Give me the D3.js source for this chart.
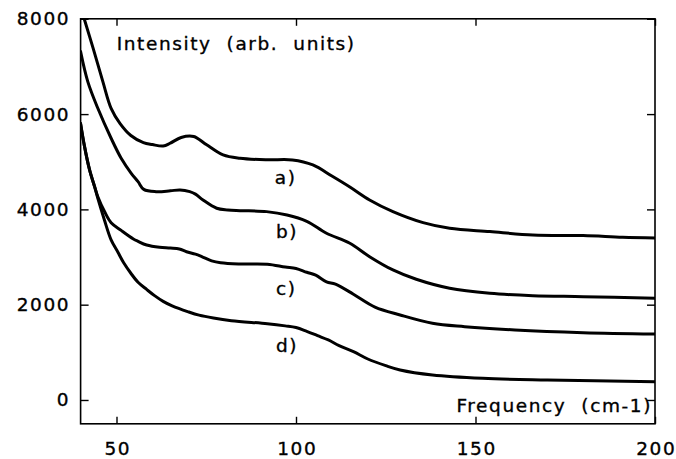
<!DOCTYPE html>
<html>
<head>
<meta charset="utf-8">
<script src="https://cdn.jsdelivr.net/npm/d3@7"></script>
<style>
  html, body { margin: 0; padding: 0; background: #fff; }
  svg { display: block; }
  text { font-family: "DejaVu Sans", sans-serif; fill: #000; }
</style>
</head>
<body>
<svg id="chart" width="676" height="459"></svg>
<script>
// ---- data ----
const freqA = [41, 43.5, 46.2, 48.5, 51, 54, 57.5, 60, 63, 65, 68, 71.5, 75, 79.7, 84.4, 92, 99, 104.7, 110, 115, 120.5, 127, 135.4, 142.8, 154, 166, 180, 191, 200];
const seriesA = [8000, 7380, 6680, 6120, 5800, 5550, 5400, 5360, 5330, 5390, 5510, 5530, 5360, 5143, 5073, 5040, 5037, 4933, 4700, 4470, 4198, 3953, 3722, 3604, 3534, 3463, 3450, 3415, 3400];

const freqB = [40, 42, 44.8, 48.5, 51.3, 54.1, 56, 57.6, 61, 65, 67.7, 70.4, 72, 74.1, 77.9, 81, 84.4, 91.8, 97.5, 103, 108.5, 115, 120.5, 127, 133.5, 142.8, 154, 166, 180, 200];
const seriesB = [7311, 6682, 6122, 5493, 5073, 4758, 4582, 4420, 4372, 4390, 4408, 4372, 4320, 4198, 4024, 3988, 3974, 3953, 3883, 3750, 3500, 3289, 3008, 2729, 2533, 2345, 2240, 2189, 2168, 2134];

const freqC = [40, 41.1, 42.5, 43.9, 44.8, 46.7, 48.5, 51.3, 54.7, 56, 58.4, 62, 65, 67.5, 69.5, 72, 74, 76.5, 79, 84, 92, 97, 100, 103, 105.5, 108.5, 111, 116, 122, 129, 138, 147, 161, 180, 200];
const seriesC = [5800, 5317, 4828, 4477, 4267, 3950, 3720, 3560, 3380, 3330, 3253, 3205, 3190, 3170, 3110, 3060, 3000, 2920, 2880, 2855, 2850, 2790, 2760, 2680, 2620, 2480, 2430, 2220, 1950, 1784, 1610, 1539, 1469, 1413, 1385];

const freqD = [40, 41.1, 42.5, 43.9, 44.8, 46.7, 48.5, 50.4, 52, 54, 56, 58.4, 60.6, 63, 65.5, 70, 73, 77, 82, 92, 97, 100, 103, 106, 109, 112, 116, 120, 125, 129, 138, 152, 170, 200];
const seriesD = [5800, 5317, 4828, 4477, 4230, 3760, 3360, 3100, 2880, 2660, 2470, 2320, 2190, 2070, 1975, 1850, 1780, 1720, 1665, 1600, 1555, 1520, 1440, 1350, 1260, 1140, 1014, 860, 720, 630, 525, 455, 420, 385];

const curveLabels = ["a)", "b)", "c)", "d)"];
const labelFreq = [94.1, 94.4, 94.4, 94.4];
const labelValue = [4534, 3400, 2210, 1000];

const xTicks = [50, 100, 150, 200];
const yTicks = [0, 2000, 4000, 6000, 8000];
const xTitle = "Frequency  (cm-1)";
const yTitle = "Intensity  (arb.  units)";

// ---- layout ----
const svg = d3.select("#chart");
const mLeft = 80.6, mRight = 655, mTop = 18.8, mBottom = 423.8;
const x = d3.scaleLinear().domain([40, 200]).range([mLeft, mRight]);
const y = d3.scaleLinear().domain([-500, 8000]).range([mBottom, mTop]);

const FS = 18.5, LS = 1.6, TSW = 0.35;

svg.append("defs").append("clipPath").attr("id", "clip")
  .append("rect").attr("x", mLeft).attr("y", mTop).attr("width", mRight - mLeft).attr("height", mBottom - mTop);

// axes
const gLeft = svg.append("g").attr("transform", `translate(${mLeft},0)`)
  .call(d3.axisLeft(y).tickValues(yTicks).tickFormat(d3.format("d")).tickSize(-8).tickSizeOuter(0).tickPadding(12));
const gBottom = svg.append("g").attr("transform", `translate(0,${mBottom})`)
  .call(d3.axisBottom(x).tickValues(xTicks).tickFormat(d3.format("d")).tickSize(-7).tickSizeOuter(0).tickPadding(18));
const gTop = svg.append("g").attr("transform", `translate(0,${mTop})`)
  .call(d3.axisTop(x).tickValues(xTicks).tickFormat("").tickSize(-7).tickSizeOuter(0));
const gRight = svg.append("g").attr("transform", `translate(${mRight},0)`)
  .call(d3.axisRight(y).tickValues(yTicks).tickFormat("").tickSize(-8).tickSizeOuter(0));

[gLeft, gBottom, gTop, gRight].forEach(g => {
  g.selectAll("path.domain").remove();
  g.selectAll(".tick line").attr("stroke", "#000").attr("stroke-width", 1.4);
  g.selectAll(".tick text").attr("font-size", FS).attr("font-family", "DejaVu Sans, sans-serif")
    .attr("letter-spacing", LS).attr("fill", "#000").attr("stroke", "#000").attr("stroke-width", TSW);
});
gLeft.selectAll(".tick text").attr("dx", LS);
gBottom.selectAll(".tick text").attr("dx", LS / 2);

// frame
svg.append("rect").attr("x", mLeft).attr("y", mTop).attr("width", mRight - mLeft).attr("height", mBottom - mTop)
  .attr("fill", "none").attr("stroke", "#000").attr("stroke-width", 1.6);

// curves
const line = d3.line().x(d => x(d[0])).y(d => y(d[1])).curve(d3.curveCatmullRom.alpha(0.5));
const all = [[freqA, seriesA], [freqB, seriesB], [freqC, seriesC], [freqD, seriesD]];
const gLines = svg.append("g").attr("clip-path", "url(#clip)");
all.forEach(([fx, vy]) => {
  gLines.append("path").datum(fx.map((f, i) => [f, vy[i]]))
    .attr("d", line).attr("fill", "none").attr("stroke", "#000")
    .attr("stroke-width", 3).attr("stroke-linejoin", "round").attr("stroke-linecap", "round");
});

// curve labels
curveLabels.forEach((t, i) => {
  svg.append("text").attr("x", x(labelFreq[i])).attr("y", y(labelValue[i]))
    .attr("font-size", FS).attr("letter-spacing", LS)
    .attr("stroke", "#000").attr("stroke-width", TSW).text(t);
});

// titles
svg.append("text").attr("x", 116.7).attr("y", 50).attr("font-size", FS).attr("letter-spacing", LS)
  .attr("stroke", "#000").attr("stroke-width", TSW)
  .style("white-space", "pre").text(yTitle);
svg.append("text").attr("x", 652).attr("y", 412).attr("font-size", FS).attr("letter-spacing", LS)
  .attr("stroke", "#000").attr("stroke-width", TSW)
  .attr("text-anchor", "end").style("white-space", "pre").text(xTitle);
</script>
</body>
</html>
